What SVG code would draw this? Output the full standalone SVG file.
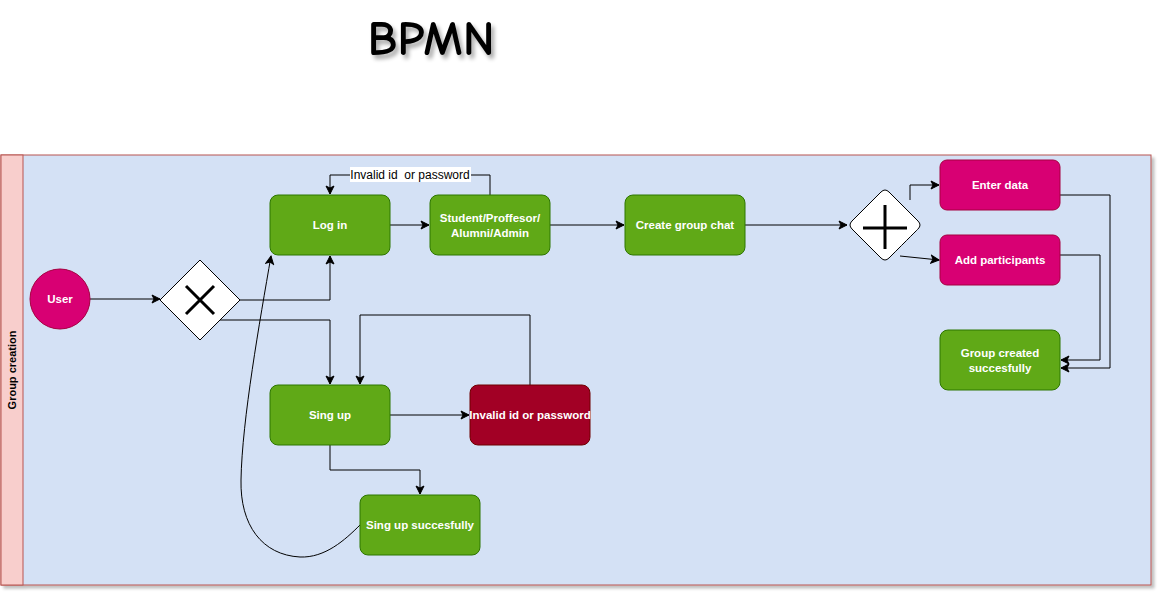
<svg xmlns="http://www.w3.org/2000/svg" width="1162" height="597" viewBox="0 0 1162 597">
<style>
.t{font-family:"Liberation Sans",Arial,sans-serif;font-size:11.5px;font-weight:bold;fill:#ffffff;text-anchor:middle;dominant-baseline:central}
.g{fill:#60a917;stroke:#2d7600;stroke-width:1}
.m{fill:#d80073;stroke:#a50040;stroke-width:1}
.r{fill:#a20025;stroke:#6f0000;stroke-width:1}
.c{fill:none;stroke:#000;stroke-width:1;marker-end:url(#a)}
.gw{fill:#fff;stroke:#000;stroke-width:1}
</style>
<defs>
<marker id="a" markerWidth="10" markerHeight="10" refX="9" refY="5" orient="auto" markerUnits="userSpaceOnUse">
<path d="M1,1 L9,5 L1,9 L3,5 Z" fill="#000" stroke="#000" stroke-width="1"/>
</marker>
<filter id="sh" x="-5%" y="-5%" width="110%" height="115%">
<feGaussianBlur in="SourceAlpha" stdDeviation="1.5"/>
<feOffset dx="3" dy="3" result="b"/>
<feComponentTransfer><feFuncA type="linear" slope="0.25"/></feComponentTransfer>
<feMerge><feMergeNode/><feMergeNode in="SourceGraphic"/></feMerge>
</filter>
<filter id="ts" x="-10%" y="-10%" width="130%" height="140%">
<feGaussianBlur in="SourceAlpha" stdDeviation="2"/>
<feOffset dx="3" dy="4" result="b"/>
<feComponentTransfer><feFuncA type="linear" slope="0.35"/></feComponentTransfer>
<feMerge><feMergeNode/><feMergeNode in="SourceGraphic"/></feMerge>
</filter>
</defs>
<rect width="1162" height="597" fill="#fff"/>
<text x="431" y="55" font-family="'Comic Neue','DejaVu Sans',sans-serif" font-size="49" font-weight="bold" text-anchor="middle" fill="#000" filter="url(#ts)">BPMN</text>

<g id="pool" filter="url(#sh)">
<rect x="1" y="155" width="1150" height="430" fill="#d4e1f5" stroke="#b85450"/>
<rect x="1" y="155" width="22" height="430" fill="#f8cecc" stroke="#b85450"/>
</g>
<text x="0" y="0" transform="translate(16,370) rotate(-90)" font-family="'Liberation Sans',Arial,sans-serif" font-size="11" font-weight="bold" text-anchor="middle" fill="#000">Group creation</text>

<g id="connectors">
<path class="c" d="M90,299 L160,299"/>
<path class="c" d="M240,300 L330,300 L330,256"/>
<path class="c" d="M220,320 L330,320 L330,384"/>
<path class="c" d="M390,225 L429,225"/>
<path class="c" d="M490,195 L490,175 L330,175 L330,194"/>
<rect x="350" y="167" width="121" height="15" fill="#fff"/>
<text x="410" y="175" font-family="'Liberation Sans',Arial,sans-serif" font-size="12" text-anchor="middle" dominant-baseline="central" fill="#000">Invalid id &#160;or password</text>
<path class="c" d="M550,225 L624,225"/>
<path class="c" d="M745,225 L847,225"/>
<path class="c" d="M910,200 L910,185 L939,185"/>
<path class="c" d="M900,256 L939,260"/>
<path class="c" d="M1060,195 L1110,195 L1110,368 L1061,368"/>
<path class="c" d="M1060,255 L1100,255 L1100,360 L1061,360"/>
<path class="c" d="M390,415 L469,415"/>
<path class="c" d="M530,385 L530,315 L360,315 L360,384"/>
<path class="c" d="M330,445 L330,470 L420,470 L420,494"/>
<path class="c" d="M360,525 C345,540 325,558 300,557 C262,555 240,525 241,480 C242,420 260,320 271,256"/>
</g>

<g id="user"><circle cx="60" cy="299" r="30" class="m"/><text class="t" x="60" y="299">User</text></g>
<g id="xor"><path class="gw" d="M200,260 L240,300 L200,340 L160,300 Z"/><path d="M186,286 L214,314 M214,286 L186,314" stroke="#000" stroke-width="3" fill="none"/></g>
<g id="login"><rect x="270" y="195" width="120" height="60" rx="8" class="g"/><text class="t" x="330" y="225">Log in</text></g>
<g id="student"><rect x="430" y="195" width="120" height="60" rx="8" class="g"/><text class="t" x="490" y="218">Student/Proffesor/</text><text class="t" x="490" y="233">Alumni/Admin</text></g>
<g id="create"><rect x="625" y="195" width="120" height="60" rx="8" class="g"/><text class="t" x="685" y="225">Create group chat</text></g>
<g id="and"><path class="gw" d="M881,189 Q885,185 889,189 L918,218 Q922,222 918,226 Q918,226 889,255 Q885,259 881,255 L852,226 Q848,222 852,218 Z" transform="translate(0,3)"/><path d="M885,205 L885,249 M863,228 L907,228" stroke="#000" stroke-width="3" fill="none"/></g>
<g id="enterdata"><rect x="940" y="160" width="120" height="50" rx="7" class="m"/><text class="t" x="1000" y="185">Enter data</text></g>
<g id="addpart"><rect x="940" y="235" width="120" height="50" rx="7" class="m"/><text class="t" x="1000" y="260">Add participants</text></g>
<g id="groupcreated"><rect x="940" y="330" width="120" height="60" rx="8" class="g"/><text class="t" x="1000" y="353">Group created</text><text class="t" x="1000" y="368">succesfully</text></g>
<g id="singup"><rect x="270" y="385" width="120" height="60" rx="8" class="g"/><text class="t" x="330" y="415">Sing up</text></g>
<g id="invalid"><rect x="470" y="385" width="120" height="60" rx="8" class="r"/><text class="t" x="530" y="415">Invalid id or password</text></g>
<g id="singupok"><rect x="360" y="495" width="120" height="60" rx="8" class="g"/><text class="t" x="420" y="525">Sing up succesfully</text></g>
</svg>
